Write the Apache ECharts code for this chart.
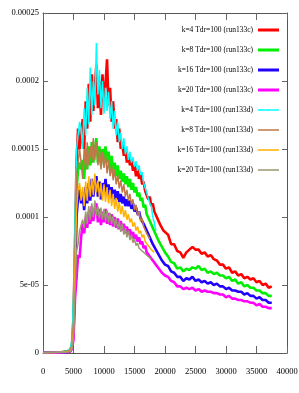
<!DOCTYPE html>
<html>
<head>
<meta charset="utf-8">
<script src="https://cdn.jsdelivr.net/npm/echarts@6/dist/echarts.min.js"></script>
<style>html,body{margin:0;padding:0;background:#fff}#c{width:299px;height:393px}</style>
</head>
<body>
<div id="c"></div>
<script>
// x positions (shared sample grid)
const xs = [0,1000,2000,3000,4000,4500,4750,5000,5250,5500,5750,6000,
6250,6500,6750,7000,7250,7500,7750,8000,
8250,8500,8750,9000,9250,9500,9750,10000,
10250,10500,10750,11000,11250,11500,11750,12000,
12250,12500,12750,13000,13250,13500,13750,14000,
14250,14500,14750,15000,15250,15500,15750,16000,
16250,16500,16750,17000,17250,17500,17750,18000,
18250,18500,18750,19000,19250,19500,19750,20000,
20500,21000,21500,22000,22500,23000,23500,24000,24500,25000,
25500,26000,26500,27000,27500,28000,28500,29000,29500,30000,
30500,31000,31500,32000,32500,33000,33500,34000,34500,35000,
35500,36000,36500,37000,37500];

// values in units of 1e-6
const k4c = [0.3,0.3,0.4,0.6,1.2,2.5,6,25,80,140,165,150,
158,172,150,185,165,198,170,205,
178,195,212,180,200,175,205,185,
198,216,182,195,170,185,165,172,
155,165,150,155,145,150,140,146,
138,142,134,138,130,136,128,132,
124,126,119,120,113,115,108,110,
104,105,99,100,94,95,90,91,
87,80,80,75,74,70,74,76,78,76,
76,73,74,71,72,69,68,65,65,62,
63,59,60,57,58,55,56,54,55,52,
53,50,51,48,49];
const k8c = [0.3,0.3,0.4,0.5,1.0,2,5,20,70,120,135,140,
135,142,128,150,135,152,138,155,
140,150,158,140,152,138,150,142,
152,140,148,135,145,132,140,130,
138,128,134,126,132,124,130,122,
128,120,125,118,122,115,118,112,
114,107,109,102,103,97,98,92,
92,87,87,82,82,78,77,74,
71,67,66,62,63,60,62,61,63,62,
64,61,62,59,60,58,59,57,57,55,
56,53,54,51,52,49,50,48,48,46,
46,44,44,42,42];
const k16c = [0.2,0.2,0.3,0.4,0.8,1.5,4,15,55,100,115,120,
110,118,105,122,110,125,112,128,
115,124,130,115,126,113,125,118,
128,116,124,114,122,112,120,113,
119,111,117,110,115,108,113,108,
112,106,110,104,107,102,104,99,
100,95,95,90,90,85,85,80,
80,76,75,72,71,68,68,65,
64,60,59,56,56,53,55,54,56,53,
54,52,53,51,52,50,51,49,49,47,
48,46,46,45,45,43,44,42,42,40,
41,39,39,37,37];
const k20c = [0.2,0.2,0.3,0.4,0.7,1.2,3,10,40,55,72,70,
85,95,88,100,92,104,95,108,
97,105,110,96,106,94,104,96,
106,95,103,94,102,93,100,92,
99,91,97,90,95,88,93,87,
91,85,89,84,87,82,85,80,
82,77,79,74,75,71,71,68,
68,65,64,62,61,59,59,57,
56,53,52,49,49,47,48,47,48,46,
47,45,46,45,45,44,44,43,43,41,
42,40,40,39,39,38,38,37,37,35,
36,34,34,33,33];
const k4d = [0.3,0.4,0.5,0.7,1.5,3,10,40,100,150,160,170,
165,150,180,160,195,168,210,175,
200,182,228,190,208,180,200,176,
195,178,192,172,185,165,178,160,
170,155,162,150,158,146,152,142,
148,140,144,137,141,134,138,131,
133,125,126,118,118,110,108,100,
96,90];
const k8d = [0.3,0.3,0.4,0.6,1.2,2.5,6,25,80,130,140,150,
140,128,150,135,155,138,152,140,
158,142,155,138,150,135,148,136,
146,132,142,130,138,127,135,124,
131,121,127,118,124,115,120,112,
117,109,113,105,109,101,104,97,
99,93,94,88,89,84];
const k16d = [0.2,0.3,0.3,0.5,1.0,1.5,4,15,60,105,120,125,
112,122,108,126,112,130,115,128,
116,132,118,127,114,125,112,124,
111,122,110,120,108,117,106,114,
104,111,102,108,100,105,98,102,
96,99,93,96,90,93,88,90,
85,87,82,83,79,80,76,77,74];
const k20d = [0.2,0.2,0.3,0.4,0.8,1.2,3,12,45,75,80,90,
90,98,92,104,95,108,98,110,
100,112,101,108,99,107,98,106,
97,105,96,103,95,101,93,99,
91,97,89,95,87,92,85,90,
83,87,81,84,79,81,77,78,
75,76,73,73,71,71,69];

const seriesNames = ['k=4 Tdr=100 (run133c)','k=8 Tdr=100 (run133c)','k=16 Tdr=100 (run133c)','k=20 Tdr=100 (run133c)',
  'k=4 Tdr=100 (run133d)','k=8 Tdr=100 (run133d)','k=16 Tdr=100 (run133d)','k=20 Tdr=100 (run133d)'];
const seriesValues = [k4c,k8c,k16c,k20c,k4d,k8d,k16d,k20d];
const colors = ['#ff0000','#00ee00','#2200ff','#ff00ff','#00ffff','#c0784a','#ffb000','#999970'];
const widths = [2.6,2.6,2.6,2.6,1.5,1.5,1.5,1.5];
const yTickLabels = ['0','5e-05','0.0001','0.00015','0.0002','0.00025'];
const xTickLabels = ['0','5000','10000','15000','20000','25000','30000','35000','40000'];

const FONT = 'Liberation Serif';
const tickGrey = '#666666';
// legend line icons (thin bar centred in a 21x12 box)
const thickIcon = 'path://M0,0h0.01v0.01h-0.01zM0,4.6h21v2.8h-21zM20.99,11.99h0.01v0.01h-0.01z';
const thinIcon = 'path://M0,0h0.01v0.01h-0.01zM0,5.3h21v1.4h-21zM20.99,11.99h0.01v0.01h-0.01z';

function numOf(v) { return (typeof v === 'object' && v) ? v.value : v; }
function fx(v) { const n = numOf(v); const s = xTickLabels[Math.round(n / 5000)]; return s == null ? String(n) : s; }
function fy(v) { const n = numOf(v); const s = yTickLabels[Math.round(n / 0.00005)]; return s == null ? String(n) : s; }

const series = seriesValues.map((vals, i) => ({
  name: seriesNames[i],
  type: 'line',
  symbol: 'none',
  data: vals.map((v, j) => [xs[j], v * 1e-6]),
  lineStyle: {color: colors[i], width: widths[i]},
  itemStyle: {color: colors[i]}
}));

function xAxisOpt(pos, showLabel) {
  return {
    type: 'value', min: 0, max: 40000, interval: 5000, position: pos,
    axisLine: {show: true, onZero: false},
    axisTick: {show: true, inside: true, length: 7, lineStyle: {color: tickGrey, width: 1}},
    splitLine: {show: false},
    axisLabel: showLabel ? {fontFamily: FONT, fontSize: 8.5, color: '#000', margin: 14, formatter: fx}
                         : {show: false}
  };
}
function yAxisOpt(pos, showLabel) {
  return {
    type: 'value', min: 0, max: 0.00025, interval: 0.00005, position: pos,
    axisLine: {show: true, onZero: false},
    axisTick: {show: true, inside: true, length: 5, lineStyle: {color: tickGrey, width: 1}},
    splitLine: {show: false},
    axisLabel: showLabel ? {fontFamily: FONT, fontSize: 8.5, color: '#000', margin: 4, formatter: fy}
                         : {show: false}
  };
}

const chart = echarts.init(document.getElementById('c'));
chart.setOption({
  animation: false,
  grid: {left: 43, right: 12, top: 13, bottom: 40, containLabel: false, outerBoundsMode: 'none'},
  legend: {
    orient: 'vertical', right: 20, top: 24, align: 'right', padding: 0,
    itemWidth: 21, itemHeight: 12, itemGap: 8,
    data: seriesNames.map((n, i) => ({name: n, icon: i < 4 ? thickIcon : thinIcon})),
    textStyle: {fontFamily: FONT, fontSize: 7.5, color: '#000', width: 68, align: 'right', lineHeight: 12},
    selectedMode: false
  },
  xAxis: [xAxisOpt('bottom', true), xAxisOpt('top', false)],
  yAxis: [yAxisOpt('left', true), yAxisOpt('right', false)],
  series: series
});
</script>
</body>
</html>
